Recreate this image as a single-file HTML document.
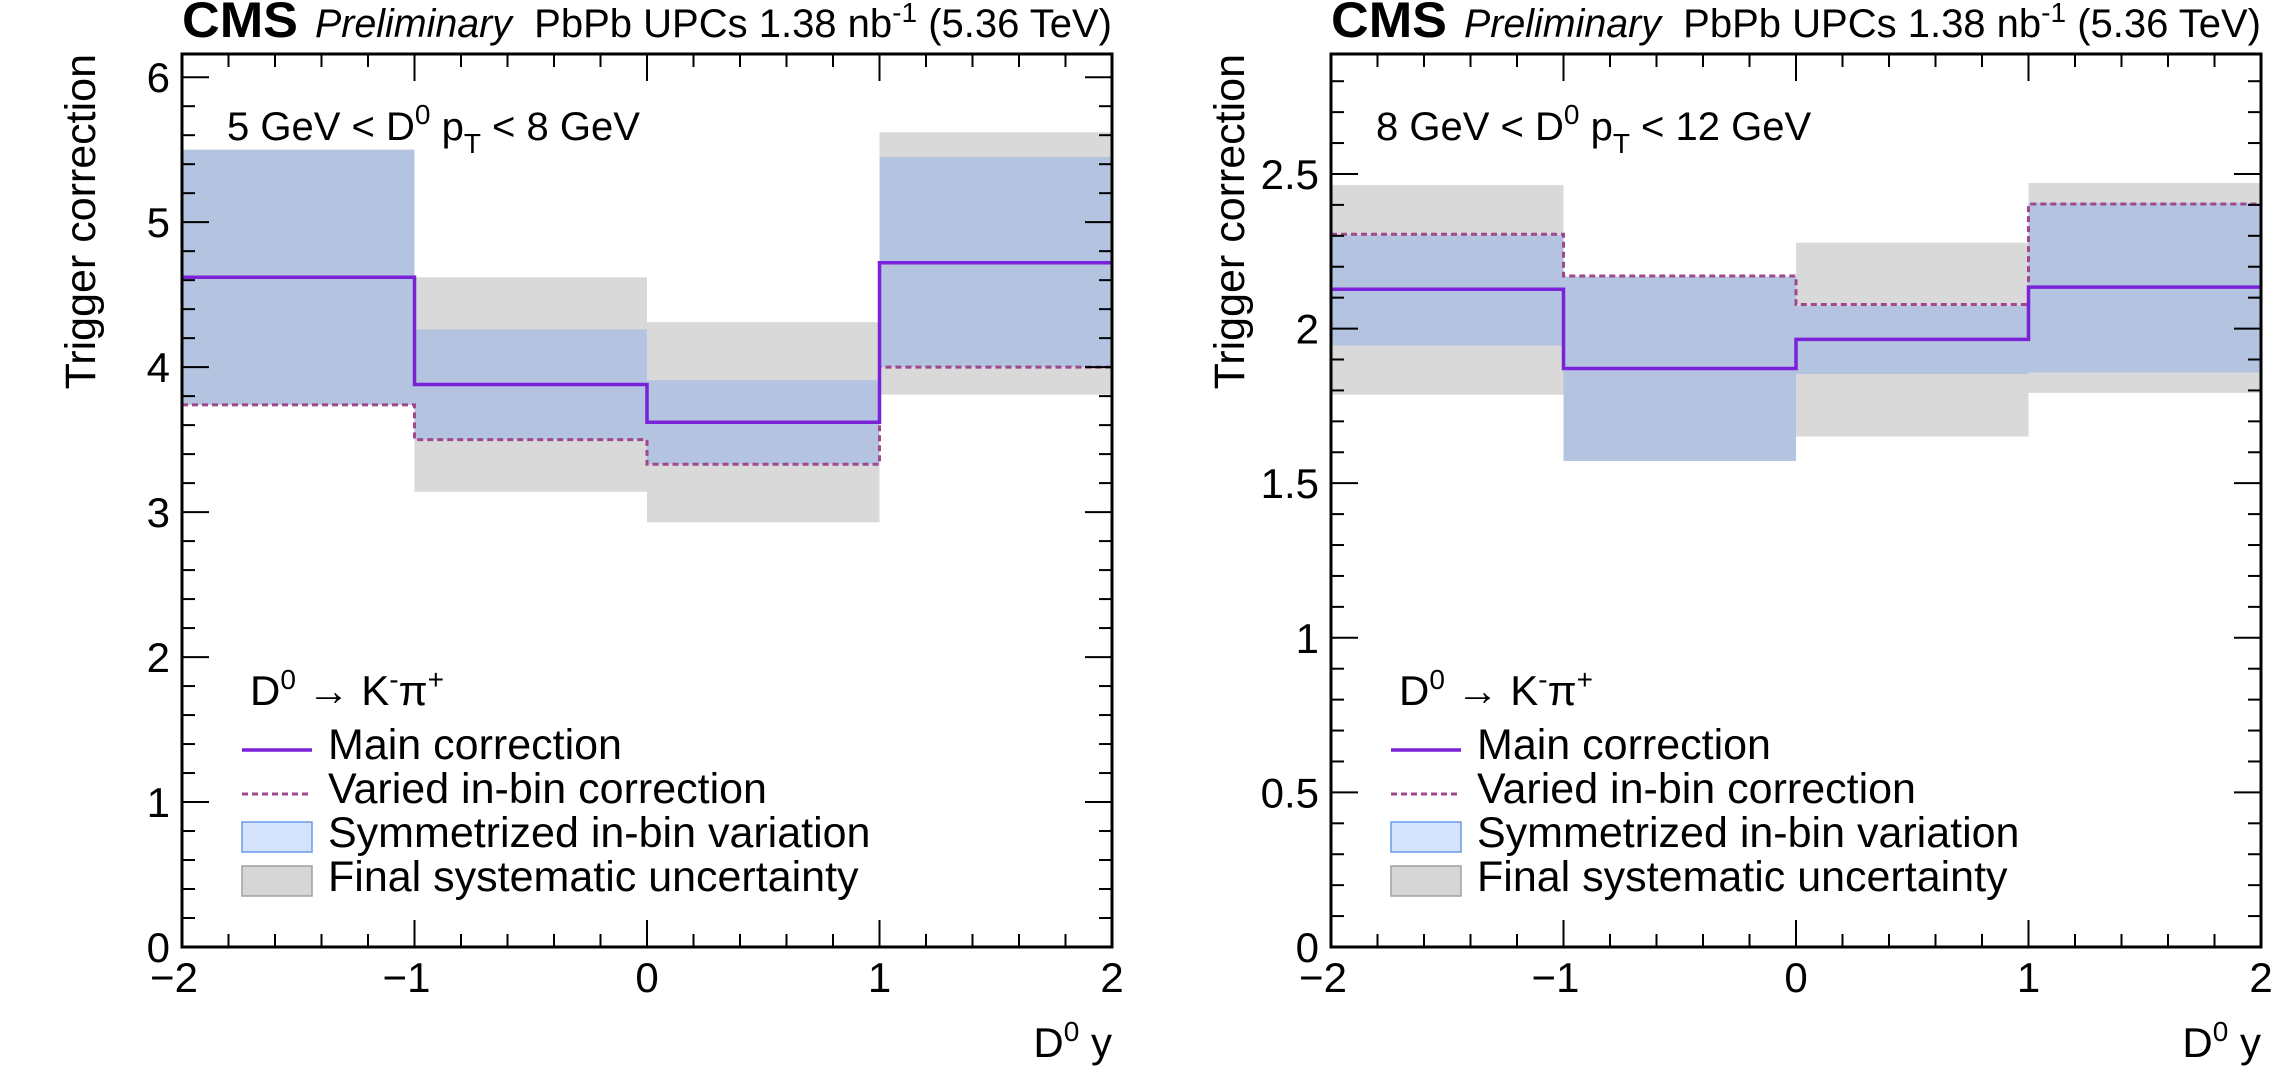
<!DOCTYPE html>
<html><head><meta charset="utf-8"><style>
html,body{margin:0;padding:0;background:#fff;}
svg{display:block;font-family:"Liberation Sans",sans-serif;}
</style></head><body>
<svg id="c" width="2284" height="1088" viewBox="0 0 2284 1088" xmlns="http://www.w3.org/2000/svg"></svg>
<script>
const binEdges = [-2, -1, 0, 1, 2];
const mainA = [4.62, 3.88, 3.62, 4.72];
const variedA = [3.74, 3.50, 3.33, 4.00];
const blueLoA = [3.74, 3.50, 3.33, 4.00];
const blueHiA = [5.50, 4.26, 3.91, 5.45];
const greyLoA = [3.74, 3.14, 2.93, 3.81];
const greyHiA = [5.50, 4.62, 4.31, 5.62];
const mainB = [2.127, 1.871, 1.965, 2.134];
const variedB = [2.305, 2.170, 2.078, 2.403];
const blueLoB = [1.945, 1.572, 1.853, 1.858];
const blueHiB = [2.302, 2.168, 2.073, 2.406];
const greyLoB = [1.786, 1.572, 1.651, 1.792];
const greyHiB = [2.464, 2.168, 2.278, 2.471];
const yTicksA = ["0","1","2","3","4","5","6"];
const yTicksB = ["0","0.5","1","1.5","2","2.5"];
const xTicks = ["\u22122","\u22121","0","1","2"];

const NS="http://www.w3.org/2000/svg";
const svg=document.getElementById('c');
function mk(tag,attrs,parent){const e=document.createElementNS(NS,tag);for(const k in attrs)e.setAttribute(k,attrs[k]);(parent||svg).appendChild(e);return e;}

function panel(o){
  const g=mk('g',{});
  
  
  const L=o.x0,R=o.x0+930,T=54,B=947;
  const sx=v=>L+(v+2)/4*(R-L);
  const sy=v=>B-v/o.ymax*(B-T);
  for(let i=0;i<4;i++){
    const r=mk('rect',{x:sx(binEdges[i]),y:sy(o.gHi[i]),width:sx(binEdges[i+1])-sx(binEdges[i]),height:sy(o.gLo[i])-sy(o.gHi[i]),fill:'#d9d9d9'},g);
    
    
  }
  for(let i=0;i<4;i++){
    const r=mk('rect',{x:sx(binEdges[i]),y:sy(o.bHi[i]),width:sx(binEdges[i+1])-sx(binEdges[i]),height:sy(o.bLo[i])-sy(o.bHi[i]),fill:'#b4c3df'},g);
    
    
  }
  function step(vals){let d='';for(let i=0;i<4;i++){d+=(i?'L':'M')+sx(binEdges[i])+','+sy(vals[i])+'L'+sx(binEdges[i+1])+','+sy(vals[i]);}return d;}
  const v=mk('path',{d:step(o.varied),fill:'none',stroke:'#a0488e','stroke-width':3,'stroke-dasharray':'6,4'},g);
  
  
  const m=mk('path',{d:step(o.main),fill:'none',stroke:'#7a22d8','stroke-width':3.5},g);
  
  
  const f=mk('rect',{x:L,y:T,width:R-L,height:B-T,fill:'none',stroke:'#000','stroke-width':3},g);
  
  
  for(let k=0;k<=20;k++){
    const xv=-2+k*0.2,x=sx(xv),len=(k%5===0)?27:13;
    mk('line',{x1:x,y1:B,x2:x,y2:B-len,stroke:'#000','stroke-width':2},g);
    mk('line',{x1:x,y1:T,x2:x,y2:T+len,stroke:'#000','stroke-width':2},g);
  }
  xTicks.forEach((t,i)=>{const tx=mk('text',{x:sx(binEdges[i])+(i<2?-8:0),y:992,'font-size':42,'text-anchor':'middle'},g);tx.textContent=t;
    
    });
  const nMinor=Math.round(o.ymax/o.minor);
  for(let k=0;k<=nMinor;k++){
    const yv=k*o.minor;if(yv>o.ymax)break;
    const y=sy(yv),major=Math.abs(yv/o.major-Math.round(yv/o.major))<1e-6,len=major?27:13;
    mk('line',{x1:L,y1:y,x2:L+len,y2:y,stroke:'#000','stroke-width':2},g);
    mk('line',{x1:R,y1:y,x2:R-len,y2:y,stroke:'#000','stroke-width':2},g);
  }
  o.yLabels.forEach((t,i)=>{const tx=mk('text',{x:L-12,y:sy(i*o.major)+15,'font-size':42,'text-anchor':'end'},g);tx.textContent=t;
    
    });
  const yt=mk('text',{transform:`translate(${L-87},${T}) rotate(-90)`,'font-size':43,'text-anchor':'end'},g);
  yt.textContent='Trigger correction';
  
  
  const xt=mk('text',{x:R,y:1057,'font-size':42,'text-anchor':'end'},g);
  xt.innerHTML='D<tspan dy="-16" font-size="28">0</tspan><tspan dy="16"> y</tspan>';
  
  
  const cms=mk('text',{x:L,y:37,'font-size':50,'font-weight':'bold',textLength:116,lengthAdjust:'spacingAndGlyphs'},g);
  cms.textContent='CMS';
  
  
  const pre=mk('text',{x:L+133,y:37,'font-size':40,'font-style':'italic',textLength:197,lengthAdjust:'spacingAndGlyphs'},g);
  pre.textContent='Preliminary';
  
  
  const lum=mk('text',{x:R,y:37,'font-size':40,'text-anchor':'end'},g);
  lum.innerHTML='PbPb UPCs 1.38 nb<tspan dy="-15" font-size="28">-1</tspan><tspan dy="15"> (5.36 TeV)</tspan>';
  
  
  const bl=mk('text',{x:L+45,y:140,'font-size':40},g);
  bl.innerHTML=o.binLabel;
  
  
  const lg=mk('g',{},g);
  
  
  const dt=mk('text',{x:L+68,y:705,'font-size':42},lg);
  dt.innerHTML='D<tspan dy="-16" font-size="28">0</tspan><tspan dy="16"> \u2192 K</tspan><tspan dy="-16" font-size="28">-</tspan><tspan dy="16">\u03c0</tspan><tspan dy="-16" font-size="28">+</tspan>';
  
  
  const lx=L+60,tx=L+146;
  mk('line',{x1:lx,y1:750,x2:lx+70,y2:750,stroke:'#7a22d8','stroke-width':3.5},lg);
  mk('line',{x1:lx,y1:794,x2:lx+70,y2:794,stroke:'#a0488e','stroke-width':3,'stroke-dasharray':'6,4'},lg);
  mk('rect',{x:lx,y:822,width:70,height:30,fill:'#d4e2fb',stroke:'#6a9ae8','stroke-width':1.5},lg);
  mk('rect',{x:lx,y:866,width:70,height:30,fill:'#d6d6d6',stroke:'#a0a0a0','stroke-width':1.5},lg);
  ['Main correction','Varied in-bin correction','Symmetrized in-bin variation','Final systematic uncertainty'].forEach((s,i)=>{
    const t=mk('text',{x:tx,y:759+i*44,'font-size':43},lg);t.textContent=s;
    
    
  });
}
panel({name:'panel-pt-5-8',x0:182,ymax:6.16,major:1,minor:0.2,yLabels:yTicksA,main:mainA,varied:variedA,bLo:blueLoA,bHi:blueHiA,gLo:greyLoA,gHi:greyHiA,
  binLabel:'5 GeV &lt; D<tspan dy="-16" font-size="28">0</tspan><tspan dy="16"> p</tspan><tspan dy="13" font-size="28">T</tspan><tspan dy="-13"> &lt; 8 GeV</tspan>'});
panel({name:'panel-pt-8-12',x0:1331,ymax:2.888,major:0.5,minor:0.1,yLabels:yTicksB,main:mainB,varied:variedB,bLo:blueLoB,bHi:blueHiB,gLo:greyLoB,gHi:greyHiB,
  binLabel:'8 GeV &lt; D<tspan dy="-16" font-size="28">0</tspan><tspan dy="16"> p</tspan><tspan dy="13" font-size="28">T</tspan><tspan dy="-13"> &lt; 12 GeV</tspan>'});
</script>
</body></html>
